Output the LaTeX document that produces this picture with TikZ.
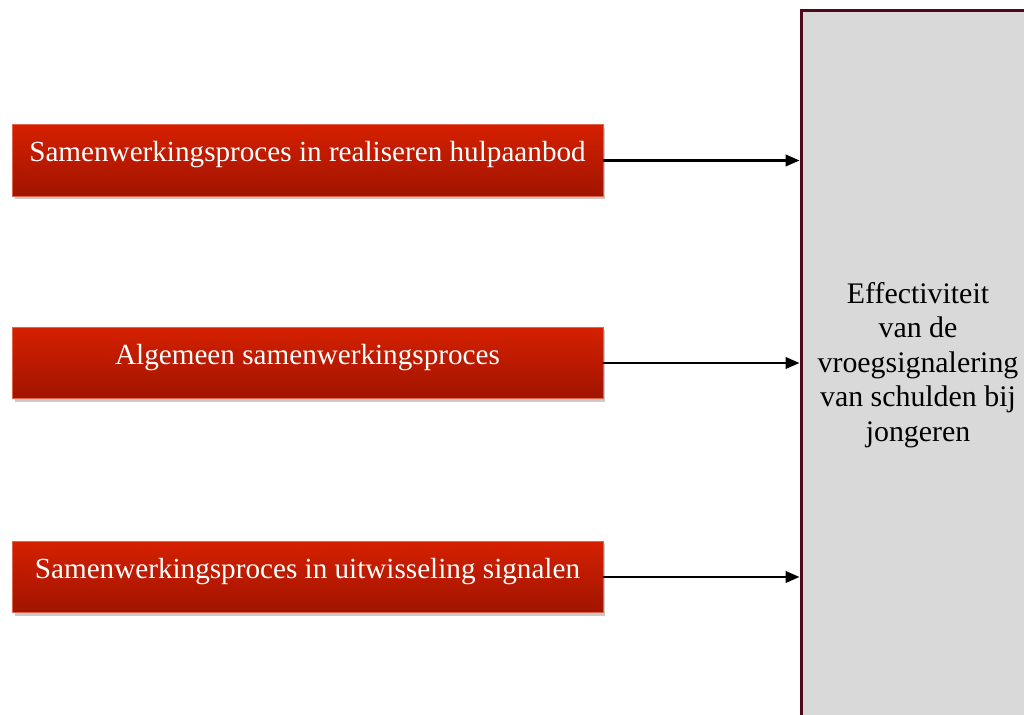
\documentclass[tikz,border=0pt]{standalone}
\usepackage{fontspec}
\setmainfont{Liberation Serif}
\usepackage{tikz}
\usetikzlibrary{positioning,arrows.meta,shadows}
\definecolor{redtop}{HTML}{D52000}
\definecolor{redbot}{HTML}{A01400}
\definecolor{effgrey}{HTML}{D9D9D9}
\definecolor{maroon}{HTML}{4E0A1C}

\begin{document}
\begin{tikzpicture}[x=0.02cm, y=-0.02cm,
    factor/.style={top color=redtop, bottom color=redbot, draw=redtop!70!white,
                   line width=0.3pt, text=white, font=\fontsize{16.6}{20}\selectfont,
                   minimum width=11.82cm, minimum height=1.43cm,
                   text height=0.65em, text depth=0.51em, inner sep=0pt,
                   drop shadow={shadow xshift=0.05cm, shadow yshift=-0.06cm,
                                opacity=0.35, fill=black!60}},
    effbox/.style={fill=effgrey, draw=maroon, line width=1.7pt,
                   minimum width=4.68cm, minimum height=14.2cm,
                   align=center, font=\fontsize{17}{19.6}\selectfont},
    fl/.style={-{Triangle[length=2.8mm, width=2.3mm]}, line width=1.4pt, black},
  ]
    \clip (0,0) rectangle (1024,715);

    % outcome box, runs off the page at the right and bottom
    \node[effbox] (eff) at (918,365) {Effectiviteit\\van de\\vroegsignalering\\van schulden bij\\jongeren};

    % three collaboration processes
    \node[factor] (hulp) at (307.5,160.5) {Samenwerkingsproces in realiseren hulpaanbod};
    \node[factor] (alg)  at (307.5,363)   {Algemeen samenwerkingsproces};
    \node[factor] (sig)  at (307.5,577)   {Samenwerkingsproces in uitwisseling signalen};

    \draw[fl] (hulp.east) -- (hulp.east -| eff.west);
    \draw[fl] (alg.east)  -- (alg.east -| eff.west);
    \draw[fl] (sig.east)  -- (sig.east -| eff.west);
\end{tikzpicture}
\end{document}
